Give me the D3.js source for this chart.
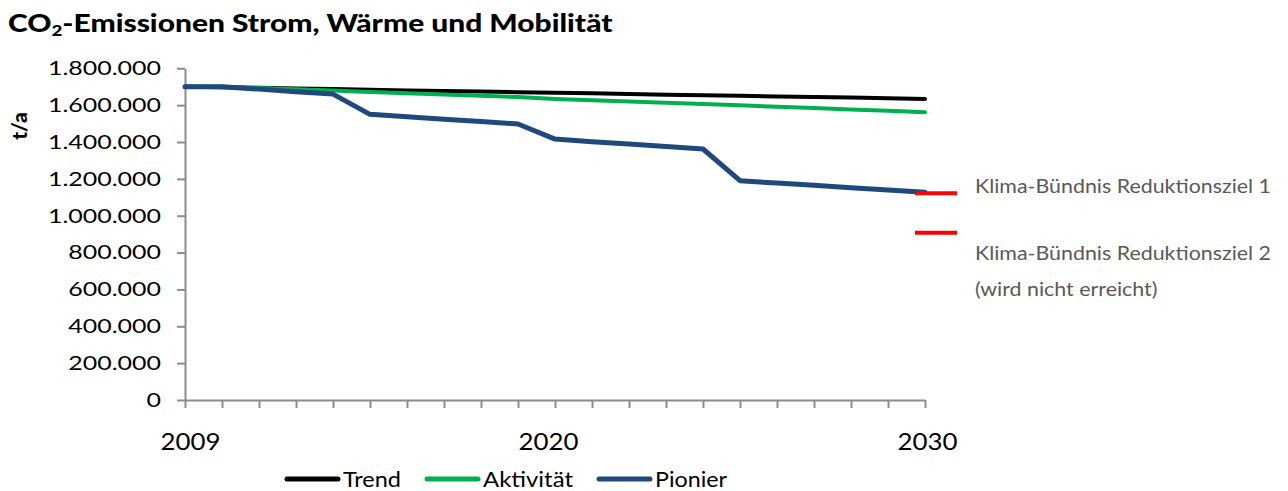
<!DOCTYPE html>
<html>
<head>
<meta charset="utf-8">
<script src="https://cdn.jsdelivr.net/npm/d3@7"></script>
<style>
  html, body { margin: 0; padding: 0; background: #fff; }
  svg { display: block; }
  text { font-family: Lato, "DejaVu Sans", sans-serif; }
</style>
</head>
<body>
<svg id="chart" width="1288" height="491"></svg>
<script>
// ---------- data ----------
const categories = ["2009","2011","2012","2013","2014","2015","2016","2017","2018","2019","2020",
                    "2021","2022","2023","2024","2025","2026","2027","2028","2029","2030"];
const shownLabels = ["2009","2020","2030"];
const trend = [1700000,1697000,1694000,1690000,1687000,1684000,1680000,1677000,1674000,1670000,1667000,
               1664000,1660000,1657000,1654000,1651000,1647000,1644000,1641000,1637000,1634000];
const aktivitaet = [1700000,1700000,1693000,1686000,1679000,1672000,1665000,1658000,1651000,1644000,1634000,
                    1627000,1620000,1613000,1606000,1599000,1591000,1584000,1576000,1569000,1562000];
const pionier = [1700000,1700000,1687000,1673000,1660000,1550000,1537000,1524000,1511000,1498000,1416000,
                 1402000,1389000,1375000,1362000,1190000,1177000,1165000,1152000,1140000,1127000];
const seriesNames = ["Trend","Aktivität","Pionier"];
const targets = [1122000, 908000];
const targetLabels = [["Klima-Bündnis Reduktionsziel 1"],
                      ["Klima-Bündnis Reduktionsziel 2","(wird nicht erreicht)"]];
const yTicks = [0,200000,400000,600000,800000,1000000,1200000,1400000,1600000,1800000];
const titleMain = "CO", titleSub = "2", titleRest = "-Emissionen Strom, Wärme und Mobilität";
const yLabel = "t/a";

// ---------- setup ----------
const svg = d3.select("#chart");
const colors = ["#000000","#00B050","#1F497D"];
const widths = [4,4,5];
const allSeries = [trend, aktivitaet, pionier];

const x = d3.scalePoint().domain(categories).range([185, 925]);
const y = d3.scaleLinear().domain([0, 1800000]).range([400, 68.3]);

const de = d3.formatLocale({decimal: ",", thousands: ".", grouping: [3], currency: ["", "€"]});
const fmt = de.format(",d");

function stretch(sel, k) {
  sel.each(function() {
    const w = this.getComputedTextLength();
    if (w > 0) {
      d3.select(this).attr("textLength", w * k).attr("lengthAdjust", "spacingAndGlyphs");
    }
  });
}

// ---------- title ----------
const title = svg.append("text")
  .attr("font-size", 24).attr("font-weight", 900).attr("fill", "#000");
title.append("tspan").text(titleMain);
title.append("tspan").attr("font-size", 15).attr("dy", 4).text(titleSub);
title.append("tspan").attr("dy", -4).text(titleRest);
const tw = title.node().getBBox().width;
title.attr("transform", `translate(8,32) scale(${605 / tw},1)`);

// ---------- y axis ----------
const yAxis = svg.append("g")
  .attr("transform", "translate(185,0)")
  .call(d3.axisLeft(y).tickValues(yTicks).tickFormat(fmt).tickSize(8).tickSizeOuter(0).tickPadding(16));
yAxis.select(".domain").attr("stroke", "#8c8c8c").attr("stroke-width", 2);
yAxis.selectAll(".tick line").attr("stroke", "#8c8c8c").attr("stroke-width", 2);
yAxis.selectAll(".tick text").attr("font-size", 20).attr("fill", "#000")
  .attr("font-family", "Lato, 'DejaVu Sans', sans-serif");
{
  const ref = yAxis.selectAll(".tick text").filter(d => d === 1800000).node();
  const k = 113 / ref.getComputedTextLength();
  stretch(yAxis.selectAll(".tick text"), k);
}

// y label
svg.append("text")
  .attr("transform", "translate(27,126) rotate(-90)")
  .attr("text-anchor", "middle")
  .attr("font-size", 21).attr("font-weight", 900).attr("fill", "#000")
  .text(yLabel);

// ---------- x axis ----------
const xAxis = svg.append("g")
  .attr("transform", "translate(0,400)")
  .call(d3.axisBottom(x).tickSize(8).tickSizeOuter(0).tickPadding(26)
    .tickFormat(d => shownLabels.includes(d) ? d : ""));
xAxis.select(".domain").attr("stroke", "#8c8c8c").attr("stroke-width", 2);
xAxis.selectAll(".tick line").attr("stroke", "#8c8c8c").attr("stroke-width", 2);
xAxis.selectAll(".tick text").attr("font-size", 23).attr("fill", "#000")
  .attr("font-family", "Lato, 'DejaVu Sans', sans-serif");
{
  const ref = xAxis.selectAll(".tick text").filter(d => d === "2009").node();
  const k = 60 / ref.getComputedTextLength();
  stretch(xAxis.selectAll(".tick text").filter(d => shownLabels.includes(d)), k);
}
xAxis.selectAll(".tick text").attr("dx", d => d === "2009" ? 5 : (d === "2020" ? -7 : 2));

// ---------- lines ----------
const line = d3.line().x((d, i) => x(categories[i])).y(d => y(d));
allSeries.forEach((s, i) => {
  svg.append("path")
    .datum(s)
    .attr("fill", "none")
    .attr("stroke", colors[i])
    .attr("stroke-width", widths[i])
    .attr("stroke-linejoin", "round")
    .attr("stroke-linecap", "round")
    .attr("d", line);
});

// ---------- targets ----------
const xEnd = x(categories[categories.length - 1]);
targets.forEach(t => {
  svg.append("line")
    .attr("x1", xEnd - 10).attr("x2", xEnd + 32)
    .attr("y1", y(t)).attr("y2", y(t))
    .attr("stroke", "#FF0000").attr("stroke-width", 4);
});
const annBaselines = [[192.5],[260, 296]];
let annK = null;
targetLabels.forEach((lines, i) => {
  lines.forEach((txt, j) => {
    const t = svg.append("text")
      .attr("x", 975).attr("y", annBaselines[i][j])
      .attr("font-size", 20).attr("fill", "#595959")
      .text(txt);
    if (annK === null) annK = 296 / t.node().getComputedTextLength();
    stretch(t, annK);
  });
});

// ---------- legend ----------
let lx = 287;
const ly = 479;
const legendW = [58, 90, 72];
seriesNames.forEach((name, i) => {
  svg.append("line")
    .attr("x1", lx).attr("x2", lx + 51)
    .attr("y1", ly).attr("y2", ly)
    .attr("stroke", colors[i]).attr("stroke-width", 5).attr("stroke-linecap", "round");
  svg.append("text")
    .attr("x", lx + 56).attr("y", 487)
    .attr("font-size", 22).attr("fill", "#000")
    .attr("textLength", legendW[i]).attr("lengthAdjust", "spacingAndGlyphs")
    .text(name);
  lx = lx + 56 + legendW[i] + 26;
});
</script>
</body>
</html>
